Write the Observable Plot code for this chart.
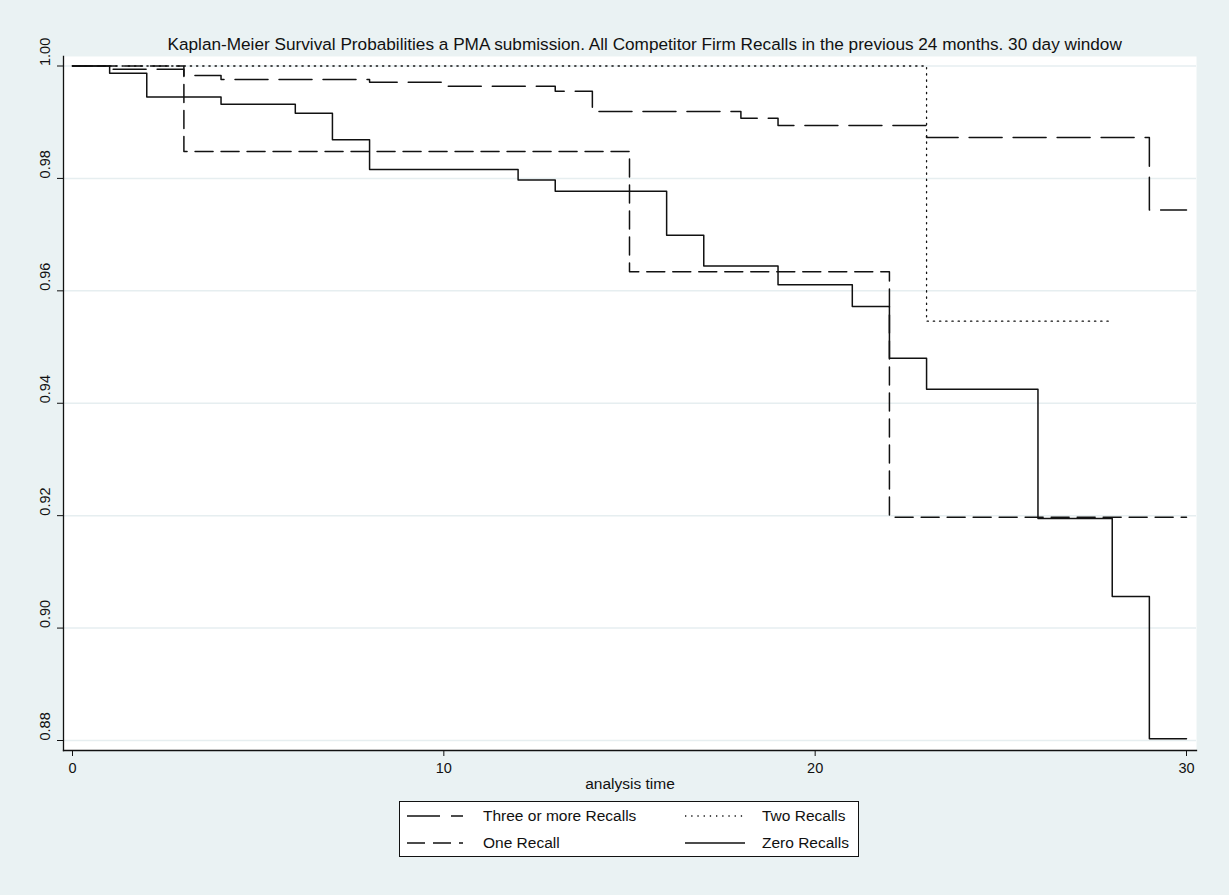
<!DOCTYPE html>
<html>
<head>
<meta charset="utf-8">
<script src="https://cdn.jsdelivr.net/npm/d3@7"></script>
<script src="https://cdn.jsdelivr.net/npm/@observablehq/plot@0.6"></script>
<style>
  html, body { margin: 0; padding: 0; background: #eaf2f3; }
  #chart { width: 1229px; height: 895px; }
</style>
</head>
<body>
<div id="chart"></div>
<script>
// ---- Data ----
const titleText = "Kaplan-Meier Survival Probabilities a PMA submission. All Competitor Firm Recalls in the previous 24 months. 30 day window";
const xLabel = "analysis time";
const xTicks = [0, 10, 20, 30];
const yTicks = [0.88, 0.90, 0.92, 0.94, 0.96, 0.98, 1.00];

const seriesNames = ["Three or more Recalls", "Two Recalls", "One Recall", "Zero Recalls"];

const threeTimes = [0, 1, 3, 4, 8, 10, 13, 14, 18, 19, 23, 29, 30];
const threeSurv  = [1.0, 0.9994, 0.9983, 0.9976, 0.9971, 0.9964, 0.9955, 0.9919, 0.9907, 0.9894, 0.9873, 0.9744, 0.9744];

const twoTimes = [0, 23, 28];
const twoSurv  = [1.0, 0.9546, 0.9546];

const oneTimes = [0, 3, 15, 22, 30];
const oneSurv  = [1.0, 0.9848, 0.9634, 0.9197, 0.9197];

const zeroTimes = [0, 1, 2, 4, 6, 7, 8, 12, 13, 16, 17, 19, 21, 22, 23, 26, 28, 29, 30];
const zeroSurv  = [1.0, 0.9987, 0.9945, 0.9932, 0.9916, 0.9869, 0.9816, 0.9797, 0.9777, 0.9699, 0.9644, 0.9611, 0.9572, 0.9480, 0.9425, 0.9195, 0.9056, 0.8803, 0.8803];

// ---- Styles per series ----
const styles = {
  "Three or more Recalls": {dash: "33,11", width: 1.5},
  "Two Recalls": {dash: "1.3,4.9", width: 1.3},
  "One Recall": {dash: "18,8", width: 1.5},
  "Zero Recalls": {dash: null, width: 1.5}
};

function rows(name, ts, ss) { return ts.map((t, i) => ({series: name, t, s: ss[i]})); }
const data = {
  "Three or more Recalls": rows("Three or more Recalls", threeTimes, threeSurv),
  "Two Recalls": rows("Two Recalls", twoTimes, twoSurv),
  "One Recall": rows("One Recall", oneTimes, oneSurv),
  "Zero Recalls": rows("Zero Recalls", zeroTimes, zeroSurv)
};

const font = "Arial, 'Liberation Sans', Helvetica, sans-serif";
const lineColor = "#111";

const lineMarks = ["Zero Recalls", "One Recall", "Three or more Recalls", "Two Recalls"].map(name =>
  Plot.line(data[name], {
    x: "t", y: "s", curve: "step-after",
    stroke: lineColor, strokeWidth: styles[name].width,
    strokeDasharray: styles[name].dash || undefined
  })
);

const chart = Plot.plot({
  width: 1229,
  height: 895,
  marginLeft: 63,
  marginRight: 33,
  marginTop: 56,
  marginBottom: 145,
  style: {background: "#eaf2f3", fontFamily: font, fontSize: "14.5px", color: "#111"},
  x: {domain: [0, 30], insetLeft: 9, insetRight: 10, ticks: xTicks, tickSize: 6, tickPadding: 6, tickFormat: d3.format("d"), label: null},
  y: {domain: [0.88, 1.0], insetTop: 9.5, insetBottom: 10, ticks: yTicks, tickSize: 6, tickFormat: () => "", label: null},
  marks: [
    Plot.frame({fill: "white", stroke: null}),
    Plot.ruleY(yTicks, {stroke: "#e6eef0", strokeWidth: 1.5}),
    ...lineMarks,
    Plot.frame({anchor: "left", stroke: "#111", strokeWidth: 1.3}),
    Plot.frame({anchor: "bottom", stroke: "#111", strokeWidth: 1.3}),
    Plot.text(yTicks, {y: d => d, text: d => d3.format(".2f")(d), frameAnchor: "left", dx: -18.5, rotate: -90, fontSize: 14.5, fill: "#111"}),
    Plot.text([titleText], {frameAnchor: "top-left", dx: 104, dy: -12.5, textAnchor: "start", lineAnchor: "middle", fontSize: 17.2, fill: "#111"}),
    Plot.text([xLabel], {frameAnchor: "bottom", dy: 34, lineAnchor: "middle", fontSize: 15.5, fill: "#111"})
  ]
});

// ---- Legend (below plot region) ----
const svg = d3.select(chart);
const lg = svg.append("g").attr("font-family", font).attr("font-size", "15.5px").attr("text-anchor", "start");
lg.append("rect").attr("x", 399.5).attr("y", 801.5).attr("width", 459).attr("height", 55)
  .attr("fill", "white").attr("stroke", "#111").attr("stroke-width", 1);
const legendSlots = [
  {col: 0, row: 0}, {col: 1, row: 0}, {col: 0, row: 1}, {col: 1, row: 1}
];
const colSample = [[407, 463], [685, 745]];
const colText = [483, 762];
const rowY = [816, 843];
seriesNames.forEach((name, i) => {
  const slot = legendSlots[i];
  const y = rowY[slot.row];
  const [x1, x2] = colSample[slot.col];
  const ln = lg.append("line").attr("x1", x1).attr("x2", x2).attr("y1", y).attr("y2", y)
    .attr("stroke", lineColor).attr("stroke-width", styles[name].width);
  if (styles[name].dash) ln.attr("stroke-dasharray", styles[name].dash);
  lg.append("text").attr("x", colText[slot.col]).attr("y", y).attr("dy", "0.35em")
    .attr("text-anchor", "start").attr("fill", "#111").text(name);
});

document.getElementById("chart").appendChild(chart);
</script>
</body>
</html>
